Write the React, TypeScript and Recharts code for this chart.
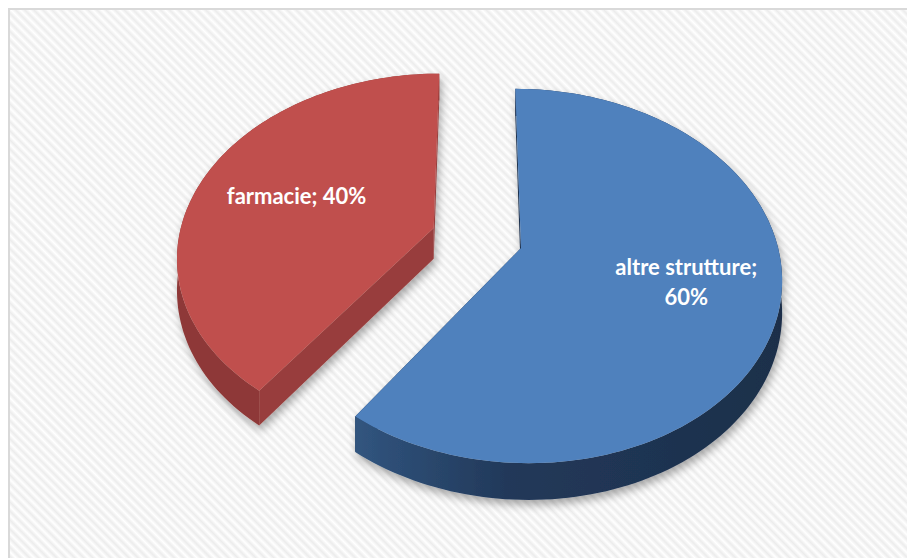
import React from 'react';
import { PieChart, Pie } from 'recharts';

// ---- data ----
const categories = ['farmacie', 'altre strutture'];
const values = [40, 60];
const colors = ['#C0504D', '#4F81BD'];

const data = categories.map((name, i) => ({ name, value: values[i] }));
const total = values.reduce((a, b) => a + b, 0);
// the first slice ends at 12 o'clock, slices run clockwise
const START_ANGLE = -270 + (360 * values[0]) / total;
const END_ANGLE = START_ANGLE - 360;

// ---- 3D look (styles) ----
const RX = 255;
const RY = 180;
const PERSP = 0.148;
const DEPTH = 31;
const EXPLODE = 0.18;
const LABEL_R = [0.59, 0.65];
const WALLS = [
  { stops: ['#8E3937', '#8E3937', '#8A3735'], face: '#983E3C' },
  { stops: ['#31557F', '#22395A', '#1C2F4A'], face: '#1F3350' },
];

const rad = (d: number) => (d * Math.PI) / 180;

function project(cx: number, cy: number, u: number, v: number, down = 0): [number, number] {
  const w = 1 / (1 + PERSP * v);
  return [cx + RX * u * w, cy - RY * v * w + down * w];
}

const fmt = (p: [number, number]) => `${p[0].toFixed(2)},${p[1].toFixed(2)}`;

function Slice3D(props: any) {
  const { cx, cy, startAngle, endAngle, index } = props;
  const t0 = 90 - startAngle;
  const t1 = 90 - endAngle;
  const tm = (t0 + t1) / 2;
  const ou = EXPLODE * Math.sin(rad(tm));
  const ov = EXPLODE * Math.cos(rad(tm));
  const pt = (t: number, r: number, down = 0) =>
    project(cx, cy, ou + r * Math.sin(rad(t)), ov + r * Math.cos(rad(t)), down);

  const n = Math.max(8, Math.ceil((t1 - t0) / 1.5));
  const topArc: [number, number][] = [];
  const botArc: [number, number][] = [];
  for (let i = 0; i <= n; i++) {
    const t = t0 + ((t1 - t0) * i) / n;
    topArc.push(pt(t, 1));
    botArc.push(pt(t, 1, DEPTH));
  }
  const c = pt(0, 0);
  const cd = pt(0, 0, DEPTH);

  const topPath = `M${fmt(c)} L${topArc.map(fmt).join(' L')} Z`;
  const wallPath = `M${topArc.map(fmt).join(' L')} L${botArc
    .slice()
    .reverse()
    .map(fmt)
    .join(' L')} Z`;
  const face = (t: number) =>
    `M${fmt(c)} L${fmt(pt(t, 1))} L${fmt(pt(t, 1, DEPTH))} L${fmt(cd)} Z`;

  const wall = WALLS[index % WALLS.length];
  const gid = `wallgrad-${index}`;
  const fid = `shadow-${index}`;
  return (
    <g>
      <defs>
        <linearGradient id={gid} x1="0" y1="0" x2="1" y2="0">
          <stop offset="0" stopColor={wall.stops[0]} />
          <stop offset="0.35" stopColor={wall.stops[1]} />
          <stop offset="1" stopColor={wall.stops[2]} />
        </linearGradient>
        <filter id={fid} x="-15%" y="-15%" width="135%" height="140%">
          <feDropShadow dx="2" dy="5" stdDeviation="4" floodColor="#000" floodOpacity="0.33" />
        </filter>
      </defs>
      <g filter={`url(#${fid})`}>
        <path d={face(t0)} fill={wall.face} />
        <path d={face(t1)} fill={wall.face} />
        <path d={wallPath} fill={`url(#${gid})`} />
        <path d={topPath} fill={colors[index % colors.length]} />
      </g>
    </g>
  );
}

function renderLabel(props: any) {
  const { cx, cy, midAngle, index, name, percent } = props;
  const tm = 90 - midAngle;
  const f = LABEL_R[index % LABEL_R.length];
  const u = (EXPLODE + f) * Math.sin(rad(tm));
  const v = (EXPLODE + f) * Math.cos(rad(tm));
  const [x, y] = project(cx, cy, u, v);
  const pct = `${Math.round(percent * 100)}%`;
  const style = { fontFamily: 'Lato, "Open Sans", sans-serif', fontWeight: 700, fontSize: 22 };
  if (String(name).length > 10) {
    return (
      <text x={x} y={y} fill="#FFFFFF" textAnchor="middle" style={style}>
        <tspan x={x} y={y - 11}>{`${name};`}</tspan>
        <tspan x={x} y={y + 19}>{pct}</tspan>
      </text>
    );
  }
  return (
    <text x={x} y={y + 7} fill="#FFFFFF" textAnchor="middle" style={style}>
      {`${name}; ${pct}`}
    </text>
  );
}

export default function App() {
  return (
    <div
      style={{
        width: 915,
        height: 560,
        border: '2px solid #D9D9D9',
        background:
          'repeating-linear-gradient(45deg, #FFFFFF 0px, #ECECEC 3.2px, #FFFFFF 6.4px)',
      }}
    >
      <PieChart width={913} height={558} margin={{ top: 0, right: 0, bottom: 0, left: 0 }}>
        <Pie
          data={data}
          dataKey="value"
          nameKey="name"
          cx={467}
          cy={228}
          outerRadius={180}
          startAngle={START_ANGLE}
          endAngle={END_ANGLE}
          stroke="none"
          shape={Slice3D}
          label={renderLabel}
          labelLine={false}
          isAnimationActive={false}
        />
      </PieChart>
    </div>
  );
}
